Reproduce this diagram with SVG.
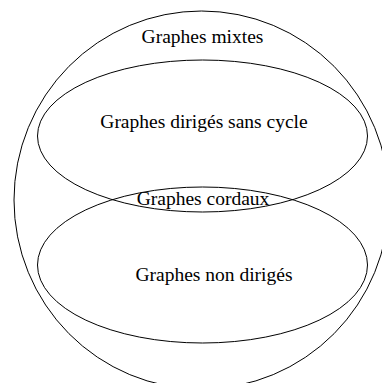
<svg xmlns="http://www.w3.org/2000/svg" width="382" height="383" viewBox="0 0 382 383">
  <style>
    .set { fill: none; stroke: #000; stroke-width: 1; }
    .label { font-family: "Liberation Serif", "Times New Roman", serif; font-size: 19.5px; fill: #000; text-anchor: middle; }
  </style>
  <rect width="382" height="383" fill="#fff"/>
  <g id="mixed">
    <ellipse class="set" cx="201.5" cy="200" rx="187.5" ry="189"/>
    <text class="label" x="202.5" y="43.3">Graphes mixtes</text>
  </g>
  <g id="dag">
    <ellipse class="set" cx="202.5" cy="136" rx="165" ry="76"/>
    <text class="label" x="204" y="127.7">Graphes dirigés sans cycle</text>
  </g>
  <g id="undirected">
    <ellipse class="set" cx="202.5" cy="265" rx="165" ry="78"/>
    <text class="label" x="214" y="281">Graphes non dirigés</text>
  </g>
  <g id="chordal">
    <text class="label" x="203" y="205">Graphes cordaux</text>
  </g>
  <g id="connectors"/>
</svg>
